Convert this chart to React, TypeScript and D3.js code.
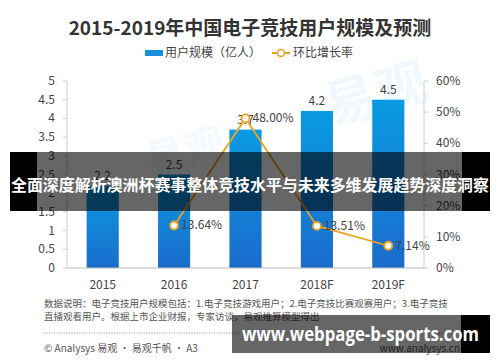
import React from "react";
import * as d3 from "d3";

const years = ["2015", "2016", "2017", "2018F", "2019F"];
const users = [2.2, 2.5, 3.7, 4.2, 4.5];
const growth: (number | null)[] = [null, 13.64, 48.0, 13.51, 7.14];
const leftTicks = [0, 0.5, 1, 1.5, 2, 2.5, 3, 3.5, 4, 4.5, 5];
const rightTicks = [0, 10, 20, 30, 40, 50, 60];

const W = 500;
const H = 362;
const margin = { top: 81, right: 76, bottom: 94, left: 67 };
const FONT = "'Noto Sans CJK SC', 'Noto Sans', sans-serif";

export default function App() {
  const xScale = d3
    .scaleBand()
    .domain(years)
    .range([margin.left, W - margin.right])
    .paddingInner(0.55)
    .paddingOuter(0.275);
  const yLeft = d3.scaleLinear().domain([0, 5]).range([H - margin.bottom, margin.top]);
  const yRight = d3.scaleLinear().domain([0, 60]).range([H - margin.bottom, margin.top]);

  const pts = years
    .map((y, i) => ({ year: y, v: growth[i] }))
    .filter((d) => d.v !== null) as { year: string; v: number }[];
  const cx = (y: string) => (xScale(y) as number) + xScale.bandwidth() / 2;
  const line = d3
    .line<{ year: string; v: number }>()
    .x((d) => cx(d.year))
    .y((d) => yRight(d.v));

  const base = H - margin.bottom;
  const xl = margin.left;
  const xr = W - margin.right;

  return (
    <svg width={W} height={H} style={{ position: "absolute", left: 0, top: 0, background: "#fff" }} fontFamily={FONT}>
      <defs>
        <linearGradient id="barGrad" x1="0" y1="0" x2="0" y2="1">
          <stop offset="0%" stopColor="#0a9ae2" />
          <stop offset="100%" stopColor="#1b6ccc" />
        </linearGradient>
      </defs>

      {/* faint watermark */}
      <text x={330} y={125} fontSize={52} fill="#f1f8fd" fontWeight="bold" transform="rotate(-15 330 125)">易观</text>
      <text x={150} y={175} fontSize={40} fill="#f3f9fd" fontWeight="bold" transform="rotate(-15 150 175)">易观</text>

      <text x={250} y={35} textAnchor="middle" fontSize={19} fontWeight="bold" fill="#333">
        2015-2019年中国电子竞技用户规模及预测
      </text>

      {/* legend */}
      <rect x={145} y={50} width={18} height={6} fill="#1a8fdc" />
      <text x={165} y={57} fontSize={12} fill="#444">用户规模（亿人）</text>
      <line x1={272} y1={53} x2={290} y2={53} stroke="#f0a020" strokeWidth={2} />
      <circle cx={281} cy={53} r={3.5} fill="#fff" stroke="#f0a020" strokeWidth={1.5} />
      <text x={293} y={57} fontSize={12} fill="#444">环比增长率</text>

      {/* axes */}
      <line x1={xl} y1={margin.top} x2={xl} y2={base} stroke="#ccc" />
      {leftTicks.map((t) => (
        <g key={"l" + t}>
          <line x1={xl - 4} x2={xl} y1={yLeft(t)} y2={yLeft(t)} stroke="#ccc" />
          <text x={55} y={yLeft(t) + 4} textAnchor="end" fontSize={12} fill="#444">{t}</text>
        </g>
      ))}
      <line x1={xr} y1={margin.top} x2={xr} y2={base} stroke="#ccc" />
      {rightTicks.map((t) => (
        <g key={"r" + t}>
          <line x1={xr} x2={xr + 4} y1={yRight(t)} y2={yRight(t)} stroke="#ccc" />
          <text x={436} y={yRight(t) + 4} fontSize={12} fill="#444">{t}%</text>
        </g>
      ))}

      {/* bars */}
      {years.map((y, i) => (
        <g key={y}>
          <rect
            x={xScale(y)}
            y={yLeft(users[i])}
            width={xScale.bandwidth()}
            height={base - yLeft(users[i])}
            fill="url(#barGrad)"
          />
          <text x={cx(y)} y={yLeft(users[i]) - 6} textAnchor="middle" fontSize={12} fill="#444">
            {users[i]}
          </text>
          <text x={cx(y)} y={289} textAnchor="middle" fontSize={12} fill="#444">{y}</text>
        </g>
      ))}
      <line x1={xl} y1={base} x2={xr} y2={base} stroke="#bbb" strokeWidth={1.2} />

      {/* growth line */}
      <path d={line(pts) || ""} fill="none" stroke="#f0a020" strokeWidth={1.8} />
      {pts.map((d) => (
        <g key={"p" + d.year}>
          <circle cx={cx(d.year)} cy={yRight(d.v)} r={4} fill="#fff" stroke="#f0a020" strokeWidth={1.8} />
          <text x={cx(d.year) + 7} y={yRight(d.v) + 4} fontSize={12} fill="#444">
            {d.v.toFixed(2)}%
          </text>
        </g>
      ))}

      {/* footnote */}
      <text x={44} y={307} fontSize={9.5} fill="#555">
        数据说明：电子竞技用户规模包括：1.电子竞技游戏用户；2.电子竞技比赛观赛用户；3.电子竞技
      </text>
      <text x={44} y={320} fontSize={9.5} fill="#555">
        直播观看用户。根据上市企业财报，专家访谈，易观推算模型得出
      </text>
      <line x1={44} y1={333} x2={460} y2={333} stroke="#999" strokeDasharray="1,1.5" />
      <text x={44} y={352} fontSize={10} fill="#555">© Analysys 易观 · 易观千帆 · A3</text>
      <text x={460} y={352} textAnchor="end" fontSize={10} fill="#555">www.analysys.cn</text>

      {/* overlay banner 1 */}
      <rect x={10} y={152} width={480} height={59} fill="rgba(0,0,0,0.6)" />
      <rect x={10} y={152} width={27} height={59} fill="#000" />
      <rect x={462} y={152} width={28} height={59} fill="#000" />
      <text x={11} y={191} fontSize={15.5} fontWeight="bold" fill="#fff" textLength={478} lengthAdjust="spacingAndGlyphs">
        全面深度解析澳洲杯赛事整体竞技水平与未来多维发展趋势深度洞察
      </text>

      {/* overlay banner 2 */}
      <rect x={232} y={315} width={258} height={38} fill="rgba(0,0,0,0.6)" />
      <rect x={461} y={315} width={29} height={38} fill="#000" />
      <text x={242} y={341} fontSize={19} fontWeight="bold" fill="#fff" textLength={237} lengthAdjust="spacingAndGlyphs" fontFamily="'Open Sans', 'DejaVu Sans', sans-serif">
        www.webpage-b-sports.com
      </text>
    </svg>
  );
}
